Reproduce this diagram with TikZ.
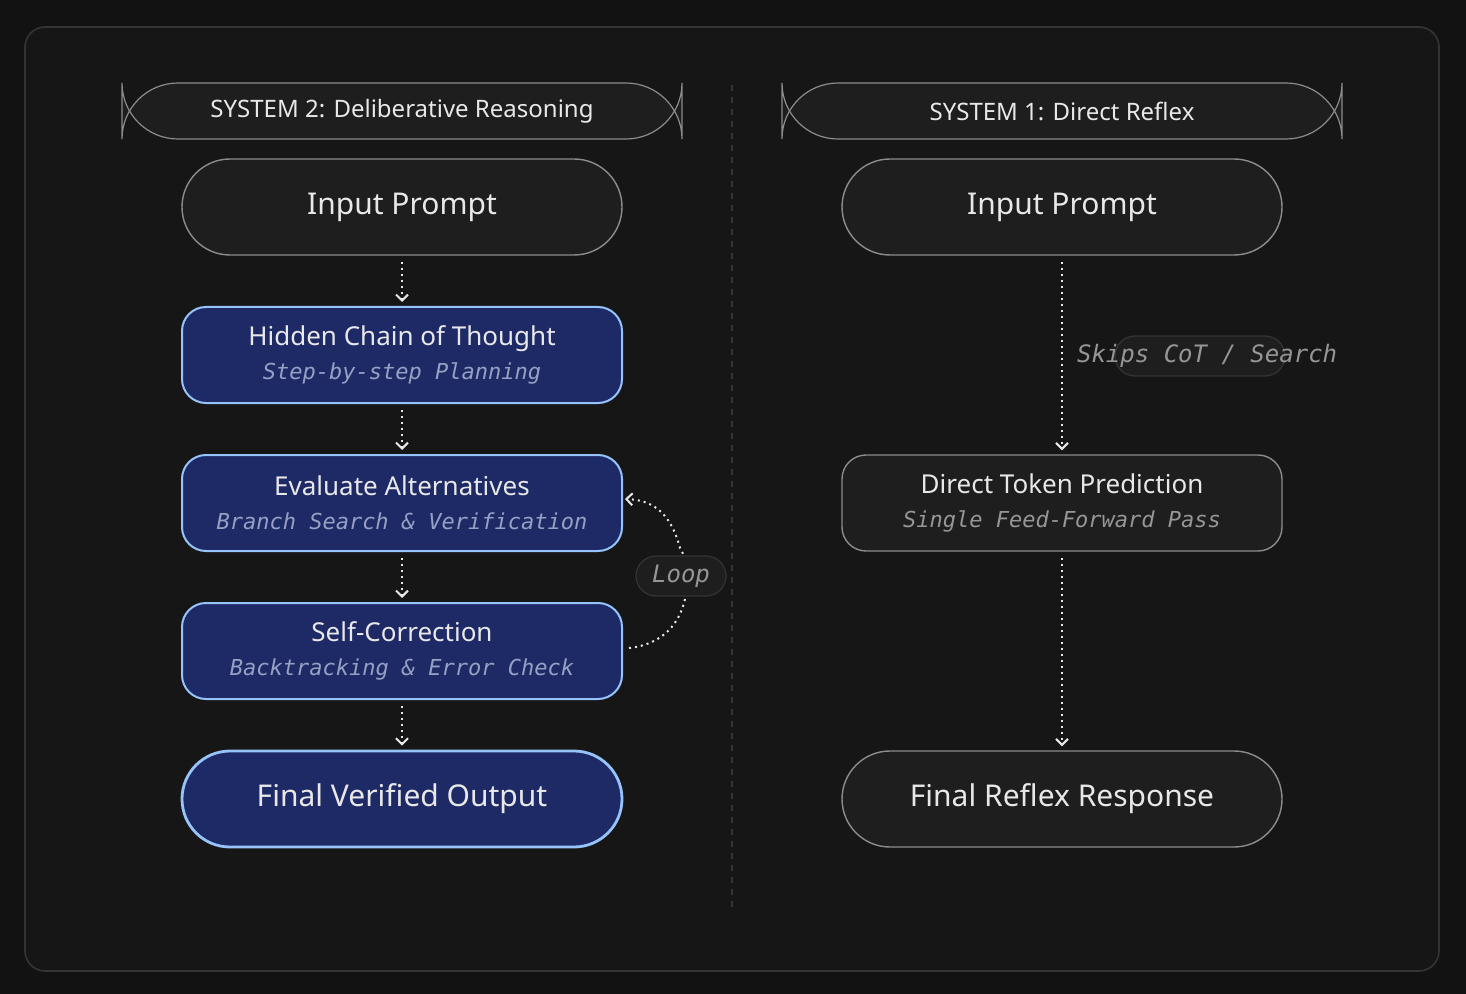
\documentclass[tikz,border=0pt]{standalone}
\usepackage{fontspec}
\setmainfont{Noto Sans}
\newfontfamily\monoit{DejaVu Sans Mono}[UprightFont=* Oblique]
\usetikzlibrary{positioning, arrows.meta, calc}
\definecolor{PageBg}{RGB}{18,18,18}
\definecolor{FrameBg}{RGB}{22,22,22}
\definecolor{FrameLine}{RGB}{52,52,54}
\definecolor{GreyFill}{RGB}{30,30,30}
\definecolor{GreyLine}{RGB}{140,140,140}
\definecolor{NavyFill}{RGB}{30,42,102}
\definecolor{NavyLine}{RGB}{150,195,250}
\definecolor{SubNavy}{RGB}{150,160,195}
\definecolor{SubGrey}{RGB}{150,150,150}
\definecolor{TextWhite}{RGB}{232,232,232}
\tikzset{
  header/.style={draw=GreyLine, fill=GreyFill, rounded corners=28, minimum width=280pt, minimum height=28pt, text=TextWhite, font=\fontsize{12}{14}\selectfont, line width=0.6pt},
  pill/.style={draw=GreyLine, fill=GreyFill, rounded corners=24pt, minimum width=220pt, minimum height=48pt, text=TextWhite, font=\fontsize{15}{18}\selectfont, line width=0.7pt},
  navy/.style={pill, draw=NavyLine, fill=NavyFill, line width=1pt, rounded corners=12pt},
  navypill/.style={navy, rounded corners=24pt, line width=1.4pt},
  greybox/.style={pill, rounded corners=12pt},
  flow/.style={draw=TextWhite, dotted, line width=1pt, -{Straight Barb[length=3pt,width=6pt]}},
  tag/.style={draw=FrameLine, fill=GreyFill, rounded corners=10pt, line width=0.6pt}
}
\newcommand{\twolines}[3]{{\fontsize{13}{15}\selectfont #1}\\[-1pt]{\monoit\fontsize{11}{13}\selectfont\color{#3}#2}}
\begin{document}
\begin{tikzpicture}[x=0.5pt,y=-0.5pt]
  \fill[PageBg] (0,0) rectangle (1466,994);
  \useasboundingbox (0,0) rectangle (1466,994);
  \draw[FrameLine, fill=FrameBg, rounded corners=10pt, line width=0.8pt] (25,27) rectangle (1439,971);
  \draw[FrameLine, dashed, line width=0.6pt] (732,85) -- (732,907);

  % system 2
  \node[header] (hdrslow) at (402,111) {SYSTEM 2: Deliberative Reasoning};
  \node[pill] (inslow) at (402,207) {Input Prompt};
  \node[navy, align=center] (chain) at (402,355) {\twolines{Hidden Chain of Thought}{Step-by-step Planning}{SubNavy}};
  \node[navy, align=center] (evalalt) at (402,503) {\twolines{Evaluate Alternatives}{Branch Search \& Verification}{SubNavy}};
  \node[navy, align=center] (selfcorr) at (402,651) {\twolines{Self-Correction}{Backtracking \& Error Check}{SubNavy}};
  \node[navypill] (outslow) at (402,799) {Final Verified Output};
  \draw[flow] ($(inslow.south)+(0,6)$) -- ($(chain.north)+(0,-4)$);
  \draw[flow] ($(chain.south)+(0,6)$) -- ($(evalalt.north)+(0,-4)$);
  \draw[flow] ($(evalalt.south)+(0,6)$) -- ($(selfcorr.north)+(0,-4)$);
  \draw[flow] ($(selfcorr.south)+(0,6)$) -- ($(outslow.north)+(0,-4)$);
  \coordinate (loopstart) at ($(selfcorr.east)+(6,-3)$);
  \draw[flow] (loopstart) .. controls (700,640) and (690,560) .. (680,548)
    .. controls (670,510) and (650,500) .. ($(evalalt.east)+(2,-4)$);
  \node[tag, minimum width=45pt, minimum height=20pt, text=SubGrey, font=\monoit\fontsize{12}{14}\selectfont] (looptag) at (681,576) {Loop};

  % system 1
  \node[header] (hdrfast) at (1062,111) {SYSTEM 1: Direct Reflex};
  \node[pill] (infast) at (1062,207) {Input Prompt};
  \node[greybox, align=center] (direct) at (1062,503) {\twolines{Direct Token Prediction}{Single Feed-Forward Pass}{SubGrey}};
  \node[pill] (outfast) at (1062,799) {Final Reflex Response};
  \node[tag, minimum width=85pt, minimum height=20pt] (skiptag) at (1200,356) {};
  \node[anchor=west, text=SubGrey, font=\monoit\fontsize{12}{14}\selectfont] (skiptext) at (1070,356) {Skips CoT / Search};
  \draw[flow] ($(infast.south)+(0,6)$) -- ($(direct.north)+(0,-4)$);
  \draw[flow] ($(direct.south)+(0,6)$) -- ($(outfast.north)+(0,-4)$);
\end{tikzpicture}
\end{document}
